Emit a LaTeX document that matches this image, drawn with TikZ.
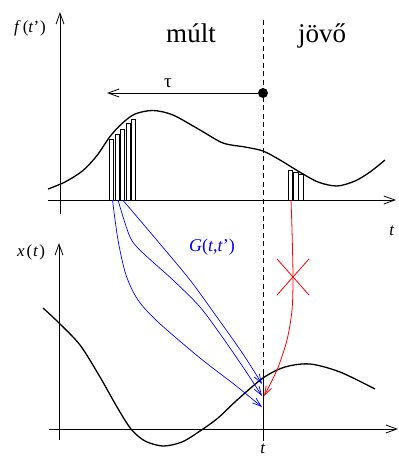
\documentclass[tikz,border=0pt]{standalone}
\usepackage{fontspec}
\setmainfont{Liberation Serif}
\usetikzlibrary{arrows.meta,calc}
\begin{document}
\begin{tikzpicture}[x=1pt,y=-1pt,
  axis/.style={line width=0.9pt, -{Straight Barb[length=11pt,width=8pt,line width=0.8pt]}},
  curve/.style={line width=1.3pt, line join=round},
  barbox/.style={draw, line width=0.6pt},
  gflow/.style={blue, line width=0.7pt, -{Straight Barb[length=9pt,width=6pt,line width=0.7pt]}},
  rflow/.style={red, line width=0.8pt, -{Straight Barb[length=9pt,width=6pt,line width=0.8pt]}},
  nowline/.style={line width=0.9pt, dash pattern=on 5pt off 3.5pt},
  lbl/.style={inner sep=0pt, font=\fontsize{17}{20}\selectfont},
  big/.style={inner sep=0pt, font=\fontsize{27}{31}\selectfont},
]
\useasboundingbox (0,0) rectangle (399,458);

% ---- top panel: f(t')
\coordinate (fy0) at (60,214);
\coordinate (fy1) at (60,12);
\coordinate (fx0) at (48,200);
\coordinate (fx1) at (396,200);
\draw[axis] (fy0) -- (fy1);
\draw[axis] (fx0) -- (fx1);
\node[lbl] (flab) at (30,28) {\textit{f}\kern2pt(\textit{t}’\kern1pt)};
\node[lbl] (tlab1) at (392,231) {\textit{t}};

\node[big, anchor=base] (mult) at (191,42) {múlt};
\node[big, anchor=base] (jovo) at (322,42) {jövő};

% bars (past)
\foreach \x/\h in {109.3/139, 114.8/134, 120.3/129, 125.8/123.5, 131.3/119}
  \draw[barbox] (\x,200) rectangle ++(4.4,\h-200);
% bars (future)
\foreach \x/\h in {288/170, 293.5/172, 298.5/174}
  \draw[barbox] (\x,200) rectangle ++(4.6,\h-200);

\draw[curve] plot[smooth] coordinates {(48,189) (65,182) (83,170.5) (97,155.5) (110,136.5) (122,123.5) (135,114) (153,110.5) (173,115) (200,130) (223,143) (245,147) (263,151) (280,160) (298,171) (318,182) (337,186) (355,181) (370,172) (385,160)};

% now line and dot
\coordinate (dtop) at (263,20);
\coordinate (dbot) at (263,371);
\coordinate (ttick) at (263,441);
\draw[nowline] (dtop) -- (dbot);
\draw[line width=0.9pt] (dbot) -- (ttick);
\node[circle, fill, inner sep=0pt, minimum size=10pt] (now) at (263,93) {};
\coordinate (tauend) at (107,93);
\draw[axis] (now) -- (tauend);
\node[inner sep=0pt, font=\fontsize{19}{22}\selectfont] (tau) at (168,83) {τ};

% ---- bottom panel: x(t)
\coordinate (xy0) at (59,440);
\coordinate (xy1) at (59,243);
\coordinate (xx0) at (49,429);
\coordinate (xx1) at (398,429);
\draw[axis] (xy0) -- (xy1);
\draw[axis] (xx0) -- (xx1);
\node[lbl] (xlab) at (31,252) {\textit{x}\kern2pt(\kern1pt\textit{t}\kern1pt)};
\node[lbl] (tlab2) at (263,449) {\textit{t}};

\draw[curve] plot[smooth] coordinates {(43,308) (58,322) (80,345) (100,377) (117,407) (131,429) (145,441) (163,446) (182,442) (200,431) (218,418) (236,401) (263,378) (285,367) (310,364) (340,372) (375,389)};

% Green function flows
\coordinate (gA) at (112.5,200);
\coordinate (gB) at (118,200);
\coordinate (gC) at (122.7,200);
\draw[gflow] plot[smooth] coordinates {(gA) (118,240) (126,275) (138,300) (158,322) (200,358) (235,385) (262,407)};
\draw[gflow] plot[smooth] coordinates {(gB) (130,237) (143,253) (173,280) (200,307) (223,338) (245,370) (262,396)};
\draw[gflow] plot[smooth] coordinates {(gC) (156.7,240) (190,280) (216.7,316.7) (243,354) (262,384)};
\node[inner sep=0pt, font=\fontsize{18}{21}\selectfont, text=blue] (glab) at (212,247) {\textit{G}(\textit{t},\textit{t}’)};

% future influence (forbidden)
\coordinate (rS) at (291,200);
\draw[rflow] plot[smooth] coordinates {(rS) (292,230) (293,277) (292,310) (287,340) (277,370) (264,396)};
\coordinate (xc) at (293,277);
\draw[red, line width=0.8pt] ($(xc)+(-16,-18)$) -- ($(xc)+(16,18)$);
\draw[red, line width=0.8pt] ($(xc)+(16,-18)$) -- ($(xc)+(-16,18)$);
\end{tikzpicture}
\end{document}
